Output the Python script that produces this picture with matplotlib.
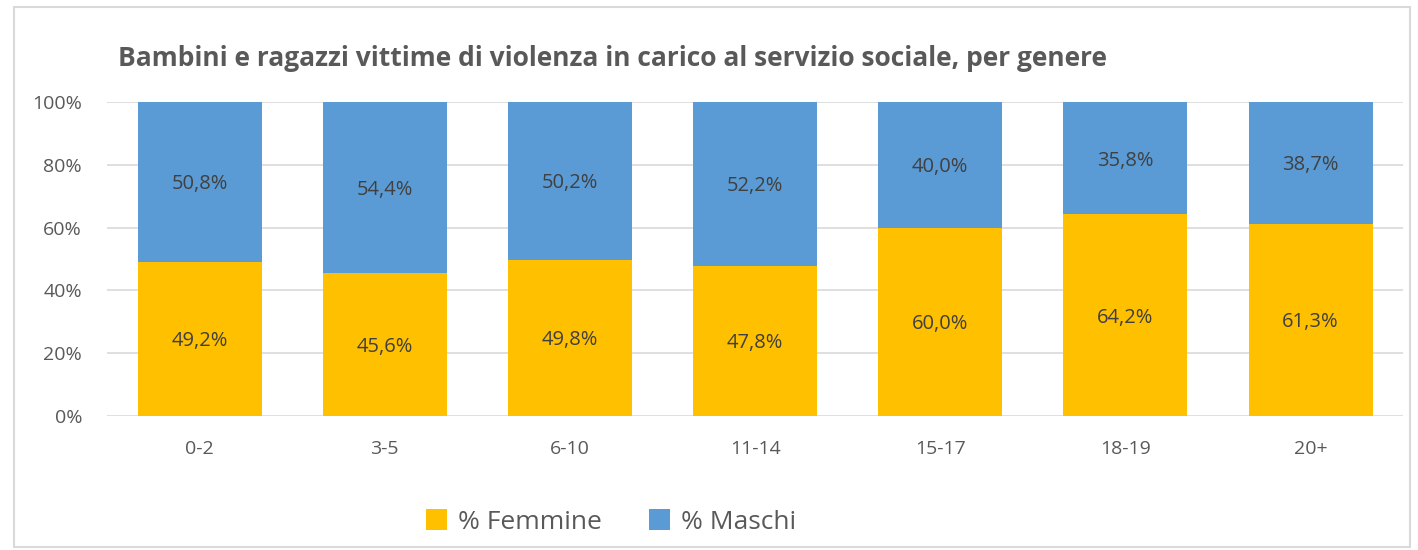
import matplotlib
matplotlib.use("Agg")
import matplotlib.pyplot as plt
from matplotlib.patches import Rectangle
import numpy as np

# Age groups and shares by gender (percent)
categories = ["0-2", "3-5", "6-10", "11-14", "15-17", "18-19", "20+"]
femmine = [49.2, 45.6, 49.8, 47.8, 60.0, 64.2, 61.3]
maschi = [50.8, 54.4, 50.2, 52.2, 40.0, 35.8, 38.7]

plt.rcParams['font.family'] = ['Open Sans', 'DejaVu Sans']

col_f = "#FFC000"
col_m = "#5B9BD5"
txt = "#595959"

fig = plt.figure(figsize=(14.18, 5.5), dpi=100)
ax = fig.add_axes([0.0755, 0.2436, 0.914, 0.5709])

x = np.arange(len(categories))
w = 0.67
ax.bar(x, femmine, w, color=col_f, label="% Femmine", zorder=3)
ax.bar(x, maschi, w, bottom=femmine, color=col_m, label="% Maschi", zorder=3)

def fmt(v):
    return f"{v:.1f}%".replace(".", ",")

for i in range(len(categories)):
    ax.text(x[i], femmine[i] / 2 - 0.8, fmt(femmine[i]), ha="center", va="center",
            fontsize=14.5, color="#404040", zorder=4)
    ax.text(x[i], femmine[i] + maschi[i] / 2 - 0.8, fmt(maschi[i]), ha="center", va="center",
            fontsize=14.5, color="#404040", zorder=4)

ax.set_xlim(-0.5, len(categories) - 0.5)
ax.set_ylim(0, 100)
ax.set_yticks(range(0, 101, 20))
ax.set_yticklabels([f"{v}%" for v in range(0, 101, 20)])
ax.set_xticks(x)
ax.set_xticklabels(categories)
ax.tick_params(axis="both", length=0, labelsize=14, colors=txt)
ax.tick_params(axis="y", pad=18)
ax.tick_params(axis="x", pad=17)
ax.grid(axis="y", color="#D9D9D9", linewidth=1.2, zorder=0)
for s in ax.spines.values():
    s.set_visible(False)

fig.text(118 / 1418, 1 - 58 / 550, "Bambini e ragazzi vittime di violenza in carico al servizio sociale, per genere",
         fontsize=19, fontweight="bold", color=txt, va="center", ha="left")

leg = fig.legend(loc="center", bbox_to_anchor=(0.431, 1 - 522 / 550), ncol=2, frameon=False,
                 fontsize=19, handlelength=0.8, handleheight=0.8, columnspacing=1.8,
                 handletextpad=0.4)
for t in leg.get_texts():
    t.set_color(txt)

fig.patches.append(Rectangle((14 / 1418, 3 / 550), 1396 / 1418, 540 / 550,
                             transform=fig.transFigure, fill=False,
                             edgecolor="#D9D9D9", linewidth=1.5))

fig.savefig("out.png", dpi=100)
